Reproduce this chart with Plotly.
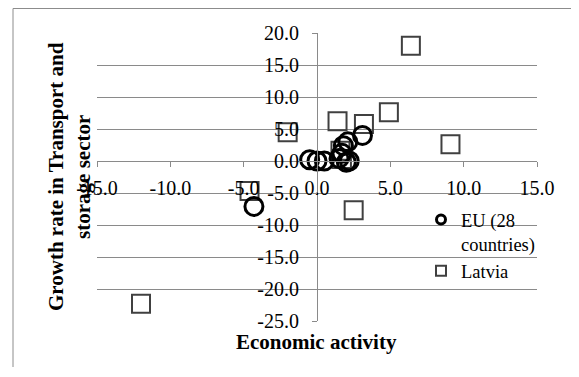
import plotly.graph_objects as go

# Data
eu_x = [-0.5, 0.0, 0.5, 1.7, 2.2, 1.8, 2.1, 3.1, -4.3, 1.5, 2.0]
eu_y = [0.2, 0.0, 0.0, 1.2, 0.0, 2.4, 3.0, 4.0, -7.1, 0.4, -0.2]

lv_x = [6.4, 4.9, 9.1, 3.2, 1.4, -2.0, -4.6, 2.5, -12.0, 1.6, 1.7]
lv_y = [18.0, 7.6, 2.6, 5.8, 6.2, 4.5, -4.7, -7.7, -22.3, 1.6, 0.3]

x_ticks = [-15, -10, -5, 0, 5, 10, 15]
y_ticks = [-25, -20, -15, -10, -5, 0, 5, 10, 15, 20]
x_range = [-15, 15]
y_range = [-25, 20]

x_title = "Economic activity"
y_title = "Growth rate in Transport and<br>storage sector"
eu_name = "EU (28<br>countries)"
lv_name = "Latvia"

FONT = "Liberation Serif, Times New Roman, serif"
GRID = "#8a8a8a"

# the page body has an 8px margin; all target positions below are screen px
OFF = 8
W, H = 579, 377
ML, MT = 97 - OFF, 33 - OFF
MR = W - (537 - OFF)
MB = H - (321 - OFF)
PW, PH = W - ML - MR, H - MT - MB


def px_x(s):
    return (s - OFF - ML) / PW


def px_y(s):
    return (H - MB - (s - OFF)) / PH


fig = go.Figure()
fig.add_trace(go.Scatter(
    x=lv_x, y=lv_y, mode="markers", name=lv_name, showlegend=False,
    marker=dict(symbol="square-open", size=18, color="#404040",
                line=dict(width=2, color="#404040")),
))
fig.add_trace(go.Scatter(
    x=eu_x, y=eu_y, mode="markers", name=eu_name, showlegend=False,
    marker=dict(symbol="circle-open", size=18, color="#000000",
                line=dict(width=3, color="#000000")),
))
# legend-only entries with smaller symbols
fig.add_trace(go.Scatter(
    x=[None], y=[None], mode="markers", name=eu_name,
    marker=dict(symbol="circle-open", size=9, color="#000000",
                line=dict(width=3, color="#000000")),
))
fig.add_trace(go.Scatter(
    x=[None], y=[None], mode="markers", name=lv_name,
    marker=dict(symbol="square-open", size=10, color="#404040",
                line=dict(width=2, color="#404040")),
))

x_pos = (0 - y_range[0]) / (y_range[1] - y_range[0])
y_pos = (0 - x_range[0]) / (x_range[1] - x_range[0])

fig.update_layout(
    width=W, height=H,
    margin=dict(l=ML, r=MR, t=MT, b=MB, pad=0),
    paper_bgcolor="white", plot_bgcolor="white",
    font=dict(family=FONT, size=20, color="#000000"),
    showlegend=True,
    legend=dict(
        x=px_x(421), y=px_y(201), xanchor="left", yanchor="top",
        bgcolor="rgba(0,0,0,0)", borderwidth=0, valign="top",
        font=dict(family=FONT, size=18.5, color="#000000"),
        tracegroupgap=0, itemwidth=30,
    ),
    xaxis=dict(
        range=x_range, anchor="free", position=x_pos,
        showgrid=False, zeroline=False,
        showline=True, linecolor=GRID, linewidth=1,
        ticks="outside", ticklen=5, tickcolor=GRID, tickwidth=1,
        tickvals=x_ticks, ticktext=[f"{v:.1f}" for v in x_ticks],
        tickfont=dict(family=FONT, size=20), ticklabelstandoff=4,
    ),
    yaxis=dict(
        range=y_range, anchor="free", position=y_pos,
        showgrid=True, gridcolor=GRID, gridwidth=1, zeroline=False,
        showline=True, linecolor=GRID, linewidth=1,
        ticks="outside", ticklen=5, tickcolor=GRID, tickwidth=1,
        tickvals=y_ticks, ticktext=[f"{v:.1f}" for v in y_ticks],
        tickfont=dict(family=FONT, size=20), ticklabelstandoff=9,
    ),
    annotations=[
        dict(text=f"<b>{x_title}</b>", xref="paper", yref="paper",
             x=px_x(316.7), y=px_y(342), xanchor="center", yanchor="middle",
             showarrow=False, font=dict(family=FONT, size=21, color="#000000")),
        dict(text=f"<b>{y_title}</b>", xref="paper", yref="paper",
             x=px_x(69), y=px_y(177), xanchor="center", yanchor="middle",
             textangle=-90, showarrow=False,
             font=dict(family=FONT, size=21, color="#000000")),
    ],
    shapes=[
        # white panel behind the legend hiding the gridlines
        dict(type="rect", xref="paper", yref="paper", layer="between",
             x0=px_x(433), x1=px_x(540), y0=px_y(200), y1=px_y(300),
             fillcolor="white", line=dict(width=0)),
        dict(type="line", xref="paper", yref="paper",
             x0=px_x(13), x1=px_x(13), y0=px_y(8.5), y1=px_y(367),
             line=dict(color="#8c8c8c", width=1)),
        dict(type="line", xref="paper", yref="paper",
             x0=px_x(13), x1=px_x(600), y0=px_y(8.5), y1=px_y(8.5),
             line=dict(color="#8c8c8c", width=1)),
    ],
)

fig.write_html("out.html")
